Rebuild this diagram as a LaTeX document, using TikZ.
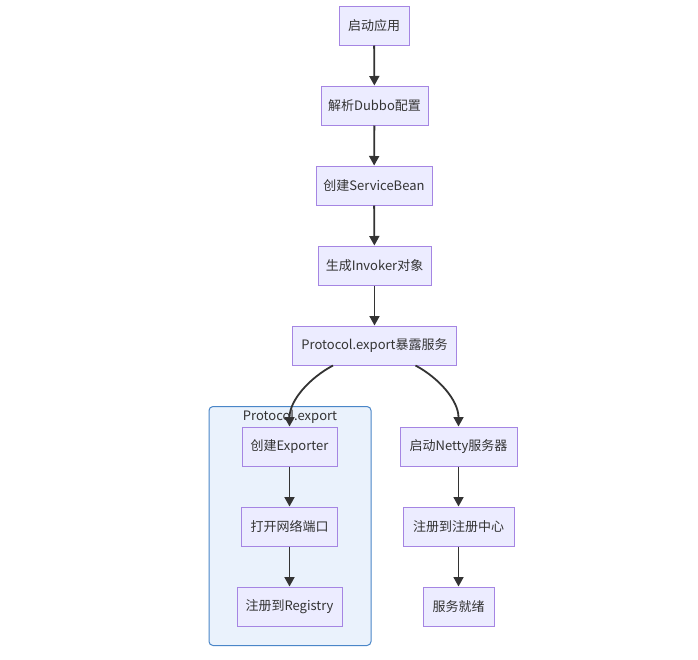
\documentclass[tikz,border=0pt]{standalone}
\usepackage{fontspec}
\setmainfont{Noto Sans CJK SC}
\usetikzlibrary{arrows.meta}
\definecolor{nodefill}{HTML}{ECECFF}
\definecolor{nodeline}{HTML}{A585E3}
\definecolor{clfill}{HTML}{EAF2FC}
\definecolor{clline}{HTML}{4A86C8}
\definecolor{ink}{HTML}{333333}
\begin{document}
\begin{tikzpicture}[x=1pt,y=-1pt,
  box/.style={draw=nodeline,fill=nodefill,line width=1pt,minimum height=39pt,inner sep=0pt,text=ink,font=\fontsize{13}{15}\selectfont},
  arr/.style={draw=ink,line width=1.8pt,-{Triangle[width=10pt,length=9.5pt]}}]
\useasboundingbox (0,0) rectangle (698,659);
\fill[white] (0,0) rectangle (698,659);
\node[draw=clline,fill=clfill,line width=1pt,rounded corners=4pt,minimum width=162pt,minimum height=239pt,inner sep=0pt] (cl) at (290,526) {};
\node[text=ink,font=\fontsize{13}{15}\selectfont,inner sep=0pt] (cllab) at (290,417) {Protocol.export};
\node[box,minimum width=70pt] (n1) at (374,25.5) {启动应用};
\node[box,minimum width=107pt] (n2) at (374.5,105.5) {解析Dubbo配置};
\node[box,minimum width=116pt] (n3) at (374,185.5) {创建ServiceBean};
\node[box,minimum width=113pt] (n4) at (374.5,265.5) {生成Invoker对象};
\node[box,minimum width=164pt] (n5) at (374.5,345.5) {Protocol.export暴露服务};
\node[box,minimum width=95pt] (e1) at (289.5,446.5) {创建Exporter};
\node[box,minimum width=96pt] (e2) at (289.5,526.5) {打开网络端口};
\node[box,minimum width=105pt] (e3) at (289.5,606.5) {注册到Registry};
\node[box,minimum width=117pt] (r1) at (458.5,446.5) {启动Netty服务器};
\node[box,minimum width=111pt] (r2) at (458.5,526.5) {注册到注册中心};
\node[box,minimum width=71pt] (r3) at (458.5,606.5) {服务就绪};
\draw[arr] (n1) -- (n2);
\draw[arr] (n2) -- (n3);
\draw[arr] (n3) -- (n4);
\draw[arr] (n4) -- (n5);
\draw[arr] ([xshift=-41.5pt]n5.south) to[out=-152,in=90,looseness=0.9] (e1.north);
\draw[arr] ([xshift=41pt]n5.south) to[out=-28,in=90,looseness=0.9] (r1.north);
\draw[arr] (e1) -- (e2);
\draw[arr] (e2) -- (e3);
\draw[arr] (r1) -- (r2);
\draw[arr] (r2) -- (r3);
\end{tikzpicture}
\end{document}
